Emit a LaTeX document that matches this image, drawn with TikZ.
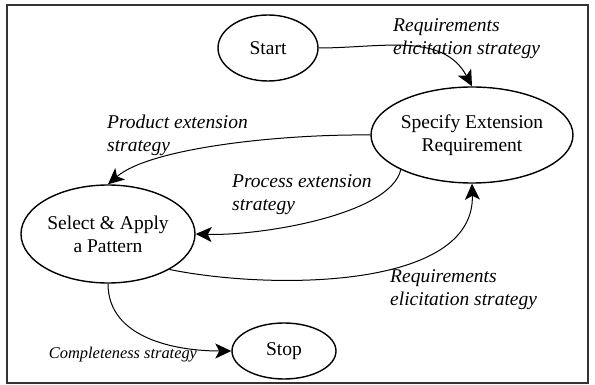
\documentclass[tikz,border=0pt]{standalone}
\usepackage{fontspec}
\setmainfont{Liberation Serif}
\usetikzlibrary{arrows.meta,shapes.geometric}
\begin{document}
\begin{tikzpicture}[x=1pt,y=-1pt,
  state/.style={ellipse,draw,line width=1.4pt,inner sep=0pt,align=center,
    font=\fontsize{19.5}{23}\selectfont},
  lbl/.style={anchor=west,inner sep=0pt,align=left,
    font=\fontsize{19.5}{23}\selectfont\itshape},
  flow/.style={line width=1pt,-{Stealth[length=16pt,width=15pt,inset=4pt]}}]
  \useasboundingbox (0,0) rectangle (595,385);
  \draw[line width=1.5pt,black!80] (7,5) rectangle (588,383);

  % states
  \node[state,minimum width=100pt,minimum height=66pt] (start) at (268,48) {Start};
  \node[state,minimum width=202pt,minimum height=96pt] (spec) at (472,135)
    {Specify Extension\\Requirement};
  \node[state,minimum width=174pt,minimum height=98pt] (sel) at (108,234)
    {Select \& Apply\\a Pattern};
  \node[state,minimum width=104pt,minimum height=56pt] (stop) at (284,351) {Stop};

  % strategy labels
  \node[lbl] (l1) at (393,38.5) {Requirements\\elicitation strategy};
  \node[lbl] (l2) at (107,135) {Product extension\\strategy};
  \node[lbl] (l3) at (232,195) {Process extension\\strategy};
  \node[lbl] (l4) at (390,290) {Requirements\\elicitation strategy};
  \node[anchor=center,inner sep=0pt,font=\fontsize{16.4}{19}\selectfont\itshape]
    (l5) at (123,355) {Completeness strategy};

  % transitions
  \draw[flow] (start.east) to[out=0,in=118] (spec.north);
  \draw[flow] (spec.west) .. controls (280,134) and (150,148) .. (sel.north);
  \draw[flow] (spec.-154) .. controls (390,215) and (260,236) .. (sel.east);
  \draw[flow] (sel.-30) .. controls (270,290) and (475,290) .. (spec.south);
  \draw[flow] (sel.south) to[out=-90,in=180] (stop.west);
\end{tikzpicture}
\end{document}
